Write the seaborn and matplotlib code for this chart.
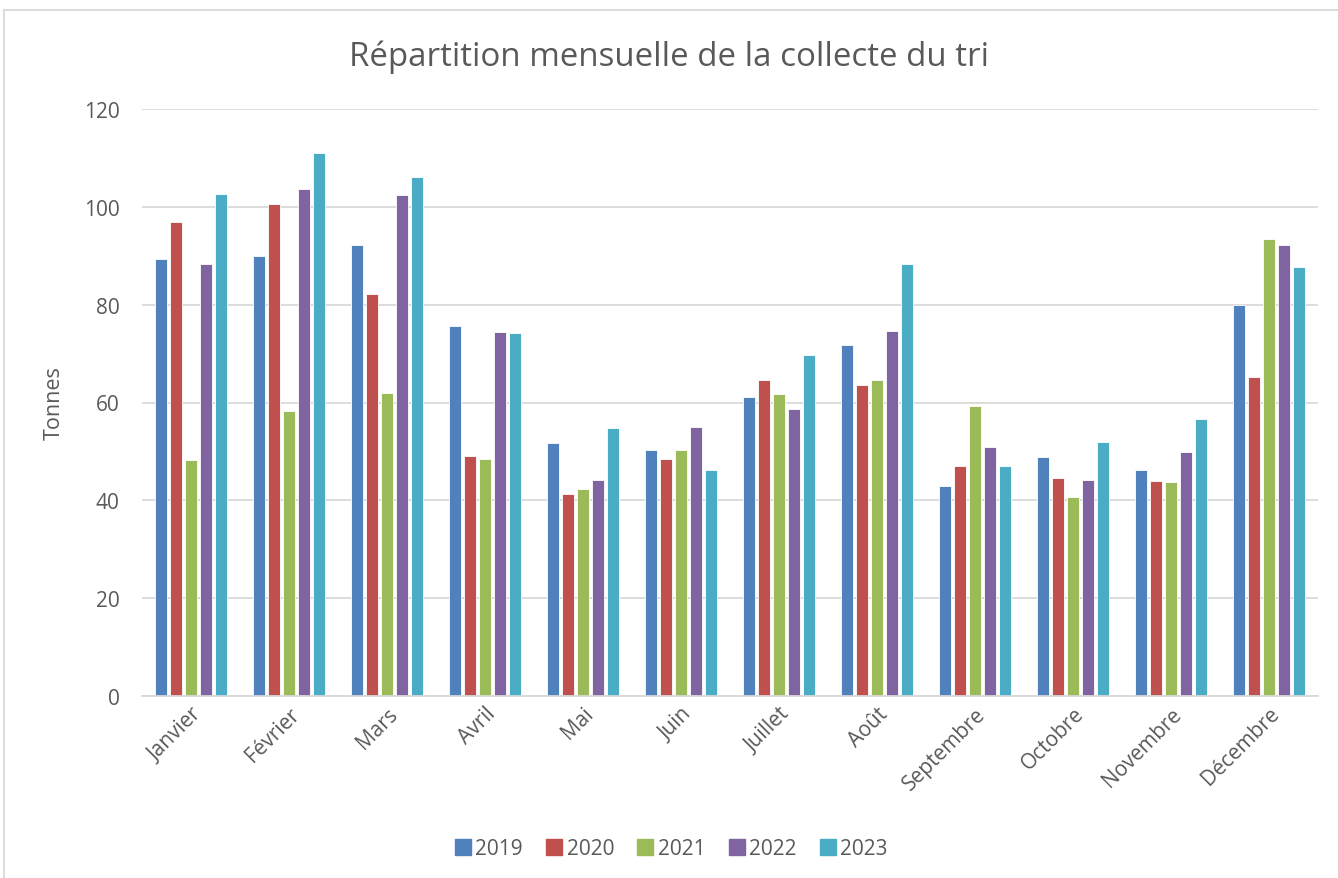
import matplotlib
matplotlib.use("Agg")
import matplotlib.pyplot as plt
import seaborn as sns
import pandas as pd
from matplotlib.lines import Line2D

months = ["Janvier", "Février", "Mars", "Avril", "Mai", "Juin", "Juillet",
          "Août", "Septembre", "Octobre", "Novembre", "Décembre"]
years = ["2019", "2020", "2021", "2022", "2023"]

v2019 = [89.4, 90.0, 92.2, 75.7, 51.7, 50.2, 61.2, 71.7, 42.9, 48.9, 46.2, 80.0]
v2020 = [96.9, 100.6, 82.2, 49.1, 41.3, 48.5, 64.7, 63.6, 47.0, 44.6, 43.9, 65.2]
v2021 = [48.2, 58.3, 61.9, 48.5, 42.3, 50.2, 61.7, 64.7, 59.3, 40.7, 43.7, 93.5]
v2022 = [88.3, 103.7, 102.5, 74.4, 44.2, 54.9, 58.6, 74.7, 50.9, 44.1, 49.8, 92.2]
v2023 = [102.7, 111.0, 106.0, 74.3, 54.7, 46.3, 69.7, 88.3, 47.0, 51.9, 56.6, 87.8]

colors = ["#4F81BD", "#C0504D", "#9BBB59", "#8064A2", "#4BACC6"]

series = [v2019, v2020, v2021, v2022, v2023]
rows = []
for y, vals in zip(years, series):
    for m, v in zip(months, vals):
        rows.append({"Mois": m, "Année": y, "Tonnes": v})
df = pd.DataFrame(rows)

sns.set_theme(style="white")
plt.rcParams["font.family"] = ["Open Sans", "DejaVu Sans"]

fig = plt.figure(figsize=(13.38, 8.79), dpi=100)
ax = fig.add_axes([142 / 1338, 1 - 697 / 879, (1318 - 142) / 1338, (697 - 110) / 879])

sns.barplot(data=df, x="Mois", y="Tonnes", hue="Année", order=months,
            hue_order=years, palette=colors, width=0.76, gap=0.16,
            saturation=1, edgecolor="white", linewidth=0.6, ax=ax, legend=False)

ax.set_ylim(0, 120)
ax.set_yticks(range(0, 121, 20))
ax.set_xlim(-0.5, 11.5)
ax.yaxis.grid(True, color="#d9d9d9", linewidth=1.3)
ax.set_axisbelow(True)
for s in ["top", "right", "left"]:
    ax.spines[s].set_visible(False)
ax.spines["bottom"].set_color("#d9d9d9")
ax.spines["bottom"].set_linewidth(1.3)
ax.tick_params(axis="both", length=0, colors="#595959", labelsize=15)
ax.tick_params(axis="y", pad=16)
ax.tick_params(axis="x", pad=5)
for lab in ax.get_xticklabels():
    lab.set_rotation(45)
    lab.set_ha("right")
    lab.set_rotation_mode("anchor")
ax.set_xlabel("")
ax.set_ylabel("Tonnes", color="#595959", fontsize=15.5, labelpad=14)

fig.text(0.5, 1 - 57 / 879, "Répartition mensuelle de la collecte du tri",
         ha="center", va="center", fontsize=23.8, color="#595959")

handles = [Line2D([0], [0], marker="s", linestyle="none", markersize=11,
                  markerfacecolor=c, markeredgecolor=c) for c in colors]
fig.legend(handles, years, loc="center", bbox_to_anchor=(0.5, 1 - 850 / 879),
           ncol=5, frameon=False, fontsize=15, handletextpad=0.0,
           columnspacing=0.9, handlelength=1.2, labelcolor="#595959")

# partial chart border (top and left) like the reference crop
fig.add_artist(Line2D([4 / 1338, 4 / 1338], [0, 1 - 11 / 879], transform=fig.transFigure,
                      color="#d9d9d9", linewidth=1.3))
fig.add_artist(Line2D([4 / 1338, 1], [1 - 11 / 879, 1 - 11 / 879], transform=fig.transFigure,
                      color="#d9d9d9", linewidth=1.3))

fig.savefig("out.png", dpi=100, facecolor="white")
